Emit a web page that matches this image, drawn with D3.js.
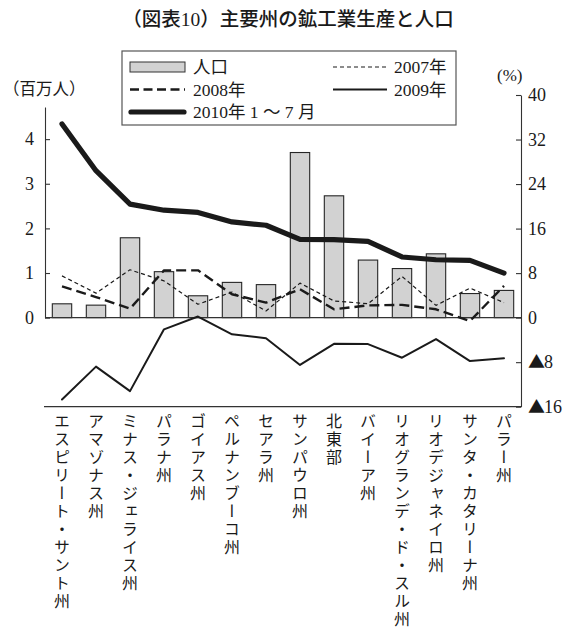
<!DOCTYPE html>
<html>
<head>
<meta charset="utf-8">
<script src="https://cdn.jsdelivr.net/npm/d3@7"></script>
<style>
  html, body { margin: 0; padding: 0; background: #fff; }
  svg { display: block; }
</style>
</head>
<body>
<script>
// 主要州の人口（百万人）と鉱工業生産の伸び率（%）
const states = [
  "エスピリート・サント州", "アマゾナス州", "ミナス・ジェライス州", "パラナ州",
  "ゴイアス州", "ペルナンブーコ州", "セアラ州", "サンパウロ州", "北東部",
  "バイーア州", "リオグランデ・ド・スル州", "リオデジャネイロ州",
  "サンタ・カタリーナ州", "パラー州"
];
const population = [0.31, 0.28, 1.79, 1.03, 0.49, 0.79, 0.74, 3.70, 2.73, 1.29, 1.10, 1.43, 0.54, 0.61];
const growth2007 = [7.5, 4.4, 8.6, 6.6, 2.4, 4.6, 1.2, 6.2, 3.0, 2.5, 7.4, 2.2, 5.3, 2.7];
const growth2008 = [5.6, 3.7, 1.6, 8.5, 8.5, 4.2, 2.7, 5.1, 1.5, 2.2, 2.3, 1.5, -0.6, 5.7];
const growth2009 = [-14.7, -8.8, -13.2, -2.1, 0.2, -3.0, -3.7, -8.5, -4.7, -4.75, -7.2, -3.85, -7.8, -7.3];
const growth2010 = [34.8, 26.4, 20.4, 19.3, 18.9, 17.2, 16.6, 14.05, 14.0, 13.7, 10.9, 10.4, 10.3, 8.0];

const leftTicks = [0, 1, 2, 3, 4];
const rightTicks = [-16, -8, 0, 8, 16, 24, 32, 40];

const W = 568, H = 635;
const ink = "#1a1a1a";
const SERIF = "'Liberation Serif', 'DejaVu Serif', 'Noto Sans CJK JP', serif";
const JP = "'Noto Sans CJK JP', sans-serif";

const svg = d3.select("body").append("svg").attr("width", W).attr("height", H);

// title
svg.append("text")
  .attr("x", 288).attr("y", 26).attr("text-anchor", "middle")
  .attr("font-size", 19.5).attr("font-weight", 500).attr("fill", ink)
  .style("font-family", SERIF)
  .text("（図表10）主要州の鉱工業生産と人口");

// scales
const x = d3.scaleBand().domain(states).range([45, 521]).paddingInner(0.43).paddingOuter(0.215);
const yR = d3.scaleLinear().domain([-16, 40]).range([406.7, 95]);
const yL = d3.scaleLinear().domain([0, 4.72]).range([yR(0), 107]);

// bars: population
svg.append("g").selectAll("rect").data(states).join("rect")
  .attr("x", d => x(d))
  .attr("width", x.bandwidth())
  .attr("y", (d, i) => yL(population[i]))
  .attr("height", (d, i) => yL(0) - yL(population[i]))
  .attr("fill", "#d2d2d2").attr("stroke", "#262626").attr("stroke-width", 1.1);

// zero line and bottom frame
svg.append("line").attr("x1", 45).attr("x2", 521).attr("y1", yR(0)).attr("y2", yR(0))
  .attr("stroke", "#333").attr("stroke-width", 1.2);
svg.append("line").attr("x1", 44).attr("x2", 521).attr("y1", yR(-16)).attr("y2", yR(-16))
  .attr("stroke", "#333").attr("stroke-width", 1.2);

// left axis
const axL = d3.axisLeft(yL).tickValues(leftTicks).tickSizeInner(-5).tickSizeOuter(0).tickPadding(11)
  .tickFormat(d => String(d));
const gL = svg.append("g").attr("transform", "translate(45,0)").call(axL);
gL.selectAll("path,line").attr("stroke", "#333").attr("stroke-width", 1.1);
gL.selectAll("text").style("font-family", SERIF).style("font-size", "18px").attr("fill", ink);

// right axis (negative values shown with a ▲ mark)
const axR = d3.axisRight(yR).tickValues(rightTicks).tickSizeInner(-5).tickSizeOuter(0).tickPadding(7)
  .tickFormat(d => d < 0 ? "▲" + (-d) : String(d));
const gR = svg.append("g").attr("transform", "translate(521,0)").call(axR);
gR.selectAll("path,line").attr("stroke", "#333").attr("stroke-width", 1.1);
gR.selectAll("text").style("font-family", SERIF).style("font-size", "18px").attr("fill", ink)
  .each(function (d) {
    if (d >= 0) return;
    const t = d3.select(this).text("");
    t.append("tspan").style("font-family", JP).style("font-size", "17px").text("▲");
    t.append("tspan").attr("dx", -1).text(String(-d));
  });

// unit labels
svg.append("text").attr("x", 3).attr("y", 95)
  .style("font-family", SERIF).style("font-size", "16.5px").attr("fill", ink).text("（百万人）");
svg.append("text").attr("x", 497).attr("y", 81)
  .style("font-family", SERIF).style("font-size", "17px").attr("fill", ink).text("(%)");

// growth lines
const line = vals => d3.line()
  .x((d, i) => x(states[i]) + x.bandwidth() / 2)
  .y(d => yR(d))(vals);

const seriesDefs = [
  { vals: growth2007, w: 1.2, dash: "4,3" },
  { vals: growth2008, w: 2.4, dash: "10,5" },
  { vals: growth2009, w: 2.0, dash: null },
  { vals: growth2010, w: 5.2, dash: null }
];
seriesDefs.forEach(s => {
  svg.append("path").attr("d", line(s.vals))
    .attr("fill", "none").attr("stroke", ink)
    .attr("stroke-width", s.w)
    .attr("stroke-dasharray", s.dash)
    .attr("stroke-linejoin", "round").attr("stroke-linecap", s.dash ? "butt" : "round");
});

// category labels, written vertically
svg.append("g").selectAll("text").data(states).join("text")
  .attr("x", d => x(d) + x.bandwidth() / 2)
  .attr("y", 413)
  .attr("fill", ink)
  .style("font-family", JP)
  .style("font-size", "16px")
  .style("writing-mode", "vertical-rl")
  .style("letter-spacing", "2px")
  .text(d => d);

// legend
const lg = svg.append("g");
lg.append("rect").attr("x", 122).attr("y", 51).attr("width", 334).attr("height", 74)
  .attr("fill", "#fff").attr("stroke", "#555").attr("stroke-width", 1.2);
const rows = [67, 89.5, 112];
lg.append("rect").attr("x", 130).attr("y", rows[0] - 5).attr("width", 55).attr("height", 10)
  .attr("fill", "#d2d2d2").attr("stroke", "#333").attr("stroke-width", 1);
lg.append("line").attr("x1", 130).attr("x2", 185).attr("y1", rows[1]).attr("y2", rows[1])
  .attr("stroke", ink).attr("stroke-width", 2.4).attr("stroke-dasharray", "9,4.5");
lg.append("line").attr("x1", 131).attr("x2", 184).attr("y1", rows[2]).attr("y2", rows[2])
  .attr("stroke", ink).attr("stroke-width", 5.2).attr("stroke-linecap", "round");
lg.append("line").attr("x1", 333).attr("x2", 387).attr("y1", rows[0]).attr("y2", rows[0])
  .attr("stroke", ink).attr("stroke-width", 1.2).attr("stroke-dasharray", "4,3");
lg.append("line").attr("x1", 333).attr("x2", 387).attr("y1", rows[1]).attr("y2", rows[1])
  .attr("stroke", ink).attr("stroke-width", 2.0);

const legendText = [
  { x: 193, y: rows[0], t: "人口" },
  { x: 193, y: rows[1], t: "2008年" },
  { x: 193, y: rows[2], t: "2010年 1 ～ 7 月" },
  { x: 394, y: rows[0], t: "2007年" },
  { x: 394, y: rows[1], t: "2009年" }
];
lg.selectAll("text.lt").data(legendText).join("text")
  .attr("class", "lt")
  .attr("x", d => d.x).attr("y", d => d.y).attr("dy", "0.36em")
  .style("font-family", SERIF).style("font-size", "17.5px").attr("fill", ink)
  .text(d => d.t);
</script>
</body>
</html>
